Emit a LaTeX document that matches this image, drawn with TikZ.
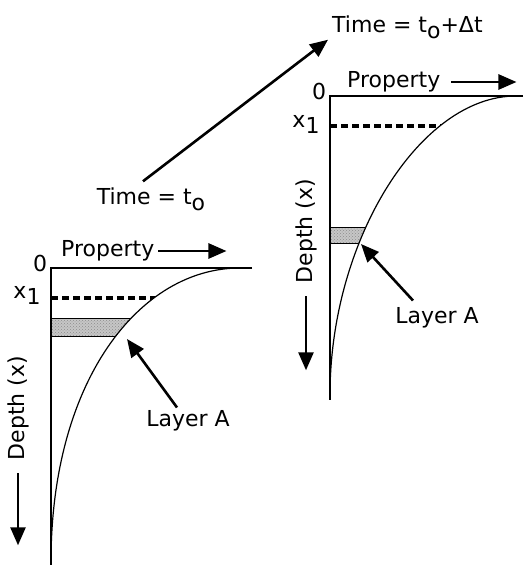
\documentclass[tikz,border=0pt]{standalone}
\usepackage{fontspec}
\setmainfont{DejaVu Sans}
\usetikzlibrary{arrows.meta,positioning,patterns}

\newcommand{\lowr}[1]{\raisebox{-0.5ex}{#1}}

\tikzset{
  axisline/.style={line width=1.8pt},
  profile/.style={line width=1.2pt},
  xonemark/.style={line width=3.2pt, dash pattern=on 7pt off 4pt},
  bigarrow/.style={line width=2.6pt, -{Triangle[length=18pt,width=15pt]}},
  lbl/.style={inner sep=1pt, font=\fontsize{22}{26}\selectfont},
  layerfill/.style={fill=gray!45},
}

\begin{document}
\begin{tikzpicture}[x=1pt,y=-1pt]
  \useasboundingbox (0,0) rectangle (523,565);

  % profile at time t_o
  \begin{scope}
    \clip (240,268) .. controls (140,268) and (51,380) .. (51,562) -- (51,268) -- cycle;
    \fill[layerfill] (51,318) rectangle (200,336);
    \fill[pattern=crosshatch dots, pattern color=gray!90] (51,318) rectangle (200,336);
    \draw[line width=1pt] (51,318) -- (200,318) (51,336) -- (200,336);
    \draw[xonemark] (51,298) -- (200,298);
  \end{scope}
  \draw[axisline] (252,268) -- (51,268) -- (51,565);
  \draw[profile] (240,268) .. controls (140,268) and (51,380) .. (51,562);

  \node[lbl] (zeroA) at (40,263) {0};
  \node[lbl] (xoneA) at (27,295) {x\lowr{1}};
  \node[lbl, anchor=west] (propA) at (60,251) {Property};
  \draw[bigarrow] ([xshift=3pt]propA.east) -- ++(68,0);
  \node[lbl, rotate=90] (depthA) at (18,408) {Depth (x)};
  \draw[bigarrow] ([yshift=-12pt]depthA.west) -- ++(0,72);
  \node[lbl] (layerA) at (188,421) {Layer A};
  \coordinate (tipA) at (127,339);
  \draw[bigarrow] ([xshift=-11pt,yshift=2pt]layerA.north) -- (tipA);

  % profile at time t_o + dt
  \begin{scope}
    \clip (516,96) .. controls (420,96) and (330,240) .. (330,395) -- (330,96) -- cycle;
    \fill[layerfill] (330,227) rectangle (450,243);
    \fill[pattern=crosshatch dots, pattern color=gray!90] (330,227) rectangle (450,243);
    \draw[line width=1pt] (330,227) -- (450,227) (330,243) -- (450,243);
    \draw[xonemark] (330,126) -- (470,126);
  \end{scope}
  \draw[axisline] (523,96) -- (330,96) -- (330,400);
  \draw[profile] (516,96) .. controls (420,96) and (330,240) .. (330,395);

  \node[lbl] (zeroB) at (319,91) {0};
  \node[lbl] (xoneB) at (306,124) {x\lowr{1}};
  \node[lbl, anchor=west] (propB) at (346,82) {Property};
  \draw[bigarrow] ([xshift=10pt]propB.east) -- ++(65,0);
  \node[lbl, rotate=90] (depthB) at (306,231) {Depth (x)};
  \draw[bigarrow] ([yshift=-12pt]depthB.west) -- ++(0,74);
  \node[lbl] (layerB) at (437,318) {Layer A};
  \coordinate (tipB) at (361,244);
  \draw[bigarrow] ([xshift=-24pt,yshift=6pt]layerB.north) -- (tipB);

  % time labels
  \node[lbl] (tzero) at (151,199) {Time = t\lowr{o}};
  \node[lbl, anchor=west] (tone) at (331,27) {Time = t\lowr{o}+Δt};
  \draw[bigarrow] ([xshift=-8pt,yshift=5pt]tzero.north) -- ([xshift=-3pt]tone.south west);
\end{tikzpicture}
\end{document}
